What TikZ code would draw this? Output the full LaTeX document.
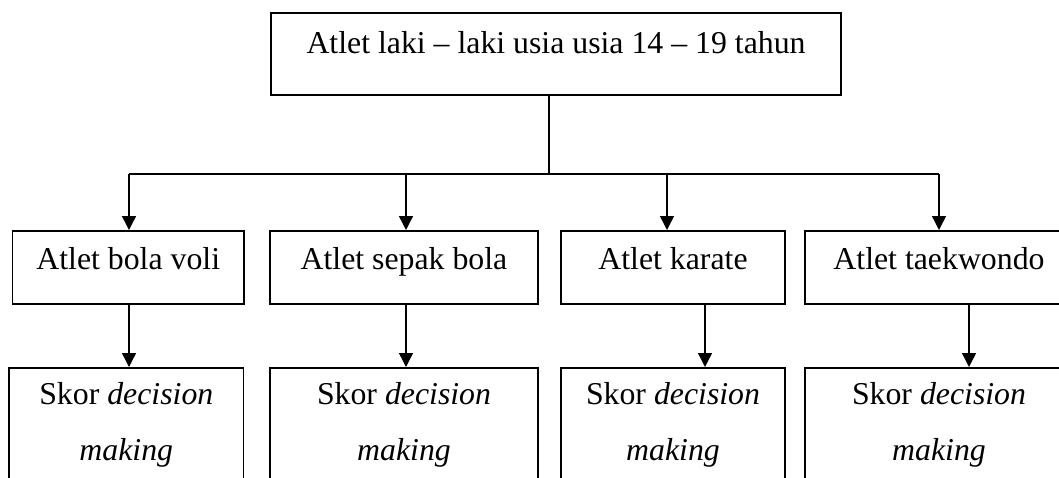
\documentclass[tikz,border=0pt]{standalone}
\usepackage{fontspec}
\setmainfont{Liberation Serif}
\usetikzlibrary{arrows.meta}
\tikzset{
    box/.style={draw, line width=0.8pt, inner sep=0pt, anchor=north, align=center,
        font=\fontsize{15.9}{28}\selectfont},
    arr/.style={line width=0.7pt, -{Triangle[length=7pt,width=7pt]}}
}
\begin{document}
\begin{tikzpicture}[x=0.5pt,y=-0.5pt]
    \clip (0,0) rectangle (1059,477);

    \node[box, minimum width=285pt, text height=20.35pt, text depth=20.65pt] (top) at (556,12.3) {Atlet laki -- laki usia usia 14 -- 19 tahun};

    \node[box, minimum width=115.75pt, text height=19.5pt, text depth=17pt] (b1) at (128.25,230) {Atlet bola voli};
    \node[box, minimum width=134pt, text height=19.5pt, text depth=17pt] (b2) at (404,230) {Atlet sepak bola};
    \node[box, minimum width=112pt, text height=19.5pt, text depth=17pt] (b3) at (673,230) {Atlet karate};
    \node[box, minimum width=134pt, text height=19.5pt, text depth=17pt] (b4) at (939,230) {Atlet taekwondo};

    \node[box, minimum width=117.3pt, text height=46.5pt, text depth=30pt] (l1) at (126.3,367) {Skor \textit{decision}\\\textit{making}};
    \node[box, minimum width=134pt, text height=46.5pt, text depth=30pt] (l2) at (404,367) {Skor \textit{decision}\\\textit{making}};
    \node[box, minimum width=112pt, text height=46.5pt, text depth=30pt] (l3) at (673,367) {Skor \textit{decision}\\\textit{making}};
    \node[box, minimum width=134pt, text height=46.5pt, text depth=30pt] (l4) at (939,367) {Skor \textit{decision}\\\textit{making}};

    \coordinate (bus) at (549,174);
    \coordinate (t1) at (129,174);
    \coordinate (t2) at (406,174);
    \coordinate (t3) at (667,174);
    \coordinate (t4) at (939,174);
    \coordinate (s1) at (129,0);
    \coordinate (s2) at (406,0);
    \coordinate (s3) at (705,0);
    \coordinate (s4) at (969,0);

    \draw[line width=0.7pt] (top.south -| bus) -- (bus);
    \draw[line width=0.7pt] (t1) -- (t4);
    \foreach \i in {1,...,4}
    \draw[arr] (t\i) -- (t\i |- b\i.north);
    \foreach \i in {1,...,4}
    \draw[arr] (b\i.south -| s\i) -- (l\i.north -| s\i);
\end{tikzpicture}
\end{document}
